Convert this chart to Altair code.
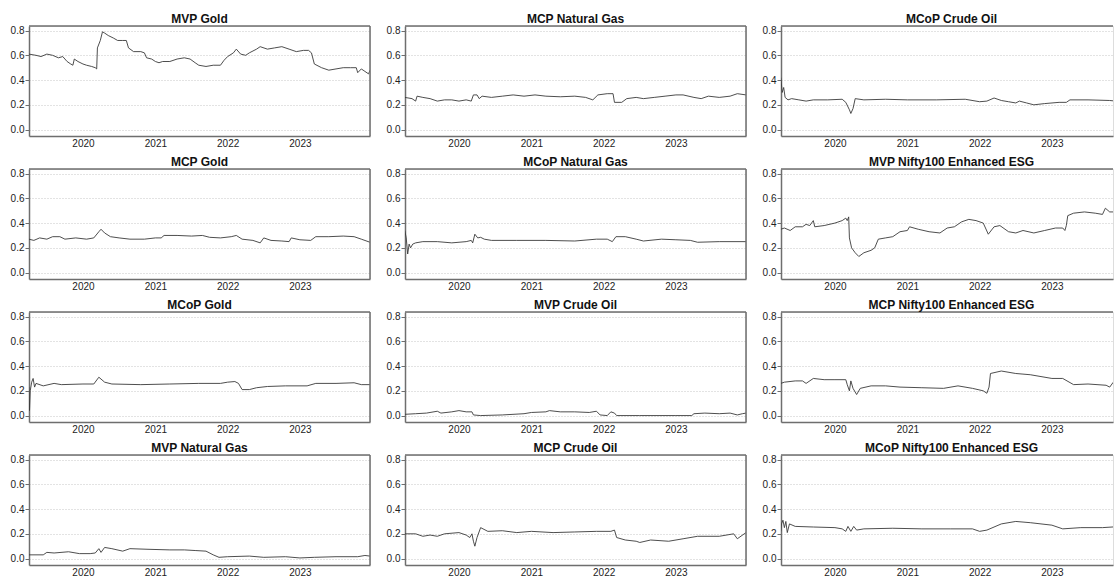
import altair as alt
import pandas as pd

# ---- values: decimal-year positions (T) and weights (V) ----
MVP_GOLD_T = [2019.25, 2019.35, 2019.42, 2019.50, 2019.58, 2019.66, 2019.72, 2019.78, 2019.83, 2019.86,
              2019.88, 2019.93, 2020.00, 2020.05, 2020.12, 2020.17, 2020.19, 2020.20, 2020.24, 2020.27,
              2020.30, 2020.35, 2020.42, 2020.48, 2020.55, 2020.60, 2020.63, 2020.70, 2020.80, 2020.85,
              2020.88, 2020.95, 2021.00, 2021.05, 2021.10, 2021.20, 2021.30, 2021.40, 2021.48, 2021.55,
              2021.60, 2021.70, 2021.80, 2021.90, 2021.95, 2022.00, 2022.08, 2022.12, 2022.18, 2022.25,
              2022.30, 2022.40, 2022.45, 2022.55, 2022.65, 2022.75, 2022.85, 2022.95, 2023.05, 2023.12,
              2023.16, 2023.20, 2023.30, 2023.40, 2023.50, 2023.60, 2023.70, 2023.78, 2023.80, 2023.85,
              2023.90, 2023.95, 2023.97]
MVP_GOLD_V = [0.61, 0.60, 0.59, 0.61, 0.60, 0.58, 0.59, 0.55, 0.53, 0.52,
              0.57, 0.55, 0.53, 0.52, 0.51, 0.50, 0.49, 0.66, 0.72, 0.79,
              0.78, 0.76, 0.74, 0.72, 0.72, 0.72, 0.66, 0.63, 0.63, 0.62,
              0.58, 0.57, 0.55, 0.54, 0.55, 0.55, 0.57, 0.58, 0.57, 0.54,
              0.52, 0.51, 0.52, 0.52, 0.56, 0.59, 0.62, 0.65, 0.61, 0.60,
              0.62, 0.65, 0.67, 0.65, 0.66, 0.67, 0.65, 0.63, 0.64, 0.64,
              0.62, 0.53, 0.50, 0.48, 0.49, 0.50, 0.50, 0.50, 0.46, 0.49,
              0.47, 0.45, 0.48]

MCP_NGAS_T = [2019.25, 2019.35, 2019.40, 2019.42, 2019.50, 2019.60, 2019.70, 2019.80, 2019.90, 2020.00,
              2020.10, 2020.17, 2020.20, 2020.25, 2020.28, 2020.32, 2020.45, 2020.60, 2020.75, 2020.90,
              2021.05, 2021.20, 2021.40, 2021.60, 2021.75, 2021.85, 2021.92, 2022.05, 2022.13, 2022.15,
              2022.25, 2022.32, 2022.45, 2022.55, 2022.70, 2022.85, 2023.00, 2023.10, 2023.25, 2023.35,
              2023.45, 2023.60, 2023.75, 2023.85, 2023.97]
MCP_NGAS_V = [0.26, 0.25, 0.23, 0.27, 0.26, 0.25, 0.23, 0.24, 0.24, 0.23,
              0.24, 0.23, 0.28, 0.28, 0.25, 0.27, 0.26, 0.27, 0.28, 0.27,
              0.28, 0.27, 0.265, 0.27, 0.26, 0.24, 0.28, 0.29, 0.29, 0.22,
              0.22, 0.25, 0.26, 0.25, 0.26, 0.27, 0.28, 0.28, 0.26, 0.25,
              0.27, 0.26, 0.27, 0.29, 0.28]

MCOP_OIL_T = [2019.25, 2019.27, 2019.29, 2019.31, 2019.35, 2019.40, 2019.50, 2019.60, 2019.70, 2019.90,
              2020.10, 2020.15, 2020.20, 2020.22, 2020.25, 2020.28, 2020.40, 2020.70, 2021.00, 2021.40,
              2021.80, 2022.00, 2022.10, 2022.20, 2022.30, 2022.40, 2022.50, 2022.55, 2022.65, 2022.75,
              2022.90, 2023.10, 2023.20, 2023.25, 2023.50, 2023.80, 2023.97]
MCOP_OIL_V = [0.42, 0.30, 0.34, 0.26, 0.24, 0.25, 0.24, 0.23, 0.24, 0.24,
              0.245, 0.22, 0.16, 0.13, 0.17, 0.25, 0.24, 0.245, 0.24, 0.24,
              0.245, 0.225, 0.23, 0.255, 0.235, 0.225, 0.215, 0.23, 0.215, 0.20,
              0.21, 0.22, 0.22, 0.24, 0.24, 0.235, 0.225]

MCP_GOLD_T = [2019.25, 2019.32, 2019.40, 2019.50, 2019.58, 2019.68, 2019.75, 2019.90, 2020.05, 2020.15,
              2020.22, 2020.25, 2020.30, 2020.38, 2020.50, 2020.65, 2020.85, 2021.00, 2021.08, 2021.12,
              2021.30, 2021.50, 2021.65, 2021.75, 2021.90, 2022.05, 2022.12, 2022.20, 2022.35, 2022.45,
              2022.50, 2022.60, 2022.75, 2022.85, 2022.88, 2023.00, 2023.15, 2023.22, 2023.40, 2023.60,
              2023.75, 2023.85, 2023.97]
MCP_GOLD_V = [0.27, 0.26, 0.28, 0.27, 0.29, 0.29, 0.27, 0.28, 0.27, 0.28,
              0.33, 0.35, 0.32, 0.29, 0.28, 0.27, 0.27, 0.28, 0.28, 0.30,
              0.30, 0.295, 0.30, 0.285, 0.28, 0.29, 0.30, 0.27, 0.26, 0.24,
              0.28, 0.26, 0.255, 0.25, 0.28, 0.265, 0.26, 0.29, 0.29, 0.295,
              0.29, 0.27, 0.245]

MCOP_NGAS_T = [2019.25, 2019.27, 2019.29, 2019.31, 2019.33, 2019.36, 2019.40, 2019.50, 2019.70, 2019.90,
               2020.10, 2020.17, 2020.19, 2020.22, 2020.26, 2020.30, 2020.35, 2020.45, 2020.80, 2021.20,
               2021.60, 2021.90, 2022.05, 2022.12, 2022.17, 2022.30, 2022.45, 2022.55, 2022.80, 2023.00,
               2023.20, 2023.30, 2023.60, 2023.97]
MCOP_NGAS_V = [0.34, 0.28, 0.15, 0.23, 0.20, 0.23, 0.24, 0.25, 0.25, 0.24,
               0.25, 0.26, 0.24, 0.31, 0.28, 0.285, 0.27, 0.26, 0.26, 0.26,
               0.255, 0.27, 0.27, 0.25, 0.29, 0.29, 0.27, 0.255, 0.27, 0.265,
               0.26, 0.245, 0.25, 0.25]

MVP_ESG_T = [2019.25, 2019.30, 2019.38, 2019.45, 2019.55, 2019.60, 2019.65, 2019.70, 2019.72, 2019.85,
             2020.00, 2020.10, 2020.15, 2020.17, 2020.19, 2020.20, 2020.23, 2020.28, 2020.33, 2020.40,
             2020.50, 2020.55, 2020.60, 2020.70, 2020.80, 2020.90, 2021.00, 2021.03, 2021.15, 2021.30,
             2021.45, 2021.55, 2021.65, 2021.75, 2021.85, 2021.95, 2022.05, 2022.12, 2022.20, 2022.28,
             2022.40, 2022.50, 2022.60, 2022.75, 2022.90, 2023.05, 2023.15, 2023.18, 2023.20, 2023.22,
             2023.30, 2023.45, 2023.60, 2023.70, 2023.74, 2023.80, 2023.97]
MVP_ESG_V = [0.35, 0.36, 0.34, 0.37, 0.37, 0.39, 0.38, 0.42, 0.37, 0.38,
             0.40, 0.42, 0.44, 0.42, 0.45, 0.28, 0.20, 0.16, 0.13, 0.16,
             0.18, 0.20, 0.27, 0.28, 0.29, 0.33, 0.34, 0.37, 0.35, 0.33,
             0.32, 0.36, 0.37, 0.41, 0.43, 0.42, 0.40, 0.31, 0.37, 0.38,
             0.33, 0.32, 0.34, 0.32, 0.34, 0.36, 0.36, 0.34, 0.38, 0.46,
             0.48, 0.49, 0.48, 0.47, 0.52, 0.49, 0.49]

MCOP_GOLD_T = [2019.25, 2019.26, 2019.27, 2019.29, 2019.31, 2019.33, 2019.35, 2019.45, 2019.60, 2019.70,
               2020.00, 2020.15, 2020.22, 2020.30, 2020.40, 2020.80, 2021.20, 2021.60, 2021.90, 2022.00,
               2022.10, 2022.15, 2022.20, 2022.30, 2022.40, 2022.55, 2022.80, 2023.10, 2023.22, 2023.50,
               2023.75, 2023.85, 2023.97]
MCOP_GOLD_V = [0.23, 0.04, 0.20, 0.27, 0.30, 0.23, 0.26, 0.24, 0.26, 0.25,
               0.255, 0.255, 0.31, 0.27, 0.255, 0.25, 0.255, 0.26, 0.26, 0.27,
               0.275, 0.26, 0.21, 0.21, 0.225, 0.235, 0.24, 0.24, 0.26, 0.26,
               0.265, 0.25, 0.25]

MVP_OIL_T = [2019.25, 2019.40, 2019.55, 2019.70, 2019.75, 2019.90, 2020.00, 2020.10, 2020.18, 2020.20,
             2020.30, 2020.60, 2020.90, 2021.00, 2021.20, 2021.25, 2021.40, 2021.60, 2021.80, 2021.90,
             2021.95, 2022.05, 2022.10, 2022.15, 2022.18, 2022.50, 2023.00, 2023.22, 2023.25, 2023.40,
             2023.60, 2023.75, 2023.85, 2023.92, 2023.97]
MVP_OIL_V = [0.01, 0.015, 0.02, 0.035, 0.02, 0.03, 0.04, 0.03, 0.03, 0.005,
             0.0, 0.005, 0.015, 0.025, 0.03, 0.04, 0.03, 0.03, 0.025, 0.035,
             0.005, 0.0, 0.03, 0.02, 0.0, 0.0, 0.0, 0.0, 0.015, 0.02,
             0.015, 0.02, 0.005, 0.015, 0.02]

MCP_ESG_T = [2019.25, 2019.30, 2019.45, 2019.55, 2019.60, 2019.70, 2019.85, 2020.00, 2020.15, 2020.17,
             2020.20, 2020.22, 2020.25, 2020.30, 2020.35, 2020.50, 2020.70, 2020.90, 2021.20, 2021.50,
             2021.70, 2021.90, 2022.05, 2022.10, 2022.13, 2022.15, 2022.30, 2022.50, 2022.70, 2023.00,
             2023.15, 2023.30, 2023.50, 2023.75, 2023.80, 2023.85, 2023.97]
MCP_ESG_V = [0.26, 0.27, 0.28, 0.28, 0.26, 0.30, 0.29, 0.29, 0.29, 0.25,
             0.20, 0.28, 0.22, 0.17, 0.22, 0.24, 0.24, 0.23, 0.225, 0.22,
             0.24, 0.22, 0.20, 0.18, 0.23, 0.34, 0.36, 0.34, 0.33, 0.30,
             0.30, 0.25, 0.255, 0.245, 0.23, 0.27, 0.28]

MVP_NGAS_T = [2019.25, 2019.45, 2019.50, 2019.60, 2019.80, 2019.95, 2020.10, 2020.17, 2020.22, 2020.25,
              2020.30, 2020.40, 2020.55, 2020.65, 2020.90, 2021.20, 2021.40, 2021.55, 2021.70, 2021.80,
              2021.88, 2022.00, 2022.30, 2022.50, 2022.80, 2023.00, 2023.20, 2023.50, 2023.80, 2023.90,
              2023.97]
MVP_NGAS_V = [0.03, 0.03, 0.05, 0.045, 0.055, 0.04, 0.04, 0.045, 0.08, 0.05,
              0.09, 0.08, 0.06, 0.08, 0.075, 0.07, 0.07, 0.065, 0.06, 0.03,
              0.01, 0.015, 0.02, 0.01, 0.015, 0.005, 0.01, 0.015, 0.015, 0.025,
              0.02]

MCP_OIL_T = [2019.25, 2019.40, 2019.50, 2019.60, 2019.70, 2019.80, 2020.00, 2020.10, 2020.15, 2020.18,
             2020.20, 2020.22, 2020.25, 2020.30, 2020.40, 2020.60, 2020.80, 2021.00, 2021.30, 2021.60,
             2021.90, 2022.10, 2022.15, 2022.18, 2022.30, 2022.45, 2022.50, 2022.65, 2022.90, 2023.10,
             2023.30, 2023.60, 2023.80, 2023.85, 2023.97]
MCP_OIL_V = [0.20, 0.20, 0.18, 0.19, 0.18, 0.20, 0.21, 0.19, 0.17, 0.20,
             0.14, 0.10, 0.17, 0.25, 0.22, 0.225, 0.21, 0.22, 0.21, 0.215,
             0.22, 0.22, 0.23, 0.17, 0.15, 0.14, 0.13, 0.15, 0.14, 0.16,
             0.18, 0.18, 0.20, 0.16, 0.21]

MCOP_ESG_T = [2019.25, 2019.26, 2019.28, 2019.30, 2019.32, 2019.34, 2019.37, 2019.45, 2019.70, 2020.00,
              2020.10, 2020.15, 2020.18, 2020.22, 2020.26, 2020.30, 2020.40, 2020.80, 2021.20, 2021.60,
              2021.90, 2022.00, 2022.10, 2022.30, 2022.50, 2022.70, 2023.00, 2023.15, 2023.40, 2023.70,
              2023.97]
MCOP_ESG_V = [0.22, 0.28, 0.31, 0.25, 0.30, 0.21, 0.28, 0.26, 0.255, 0.25,
              0.24, 0.22, 0.26, 0.22, 0.26, 0.23, 0.24, 0.245, 0.24, 0.24,
              0.24, 0.22, 0.23, 0.28, 0.30, 0.29, 0.27, 0.24, 0.25, 0.25,
              0.26]

TITLES = ["MVP Gold", "MCP Natural Gas", "MCoP Crude Oil",
          "MCP Gold", "MCoP Natural Gas", "MVP Nifty100 Enhanced ESG",
          "MCoP Gold", "MVP Crude Oil", "MCP Nifty100 Enhanced ESG",
          "MVP Natural Gas", "MCP Crude Oil", "MCoP Nifty100 Enhanced ESG"]
SERIES_T = [MVP_GOLD_T, MCP_NGAS_T, MCOP_OIL_T, MCP_GOLD_T, MCOP_NGAS_T, MVP_ESG_T,
            MCOP_GOLD_T, MVP_OIL_T, MCP_ESG_T, MVP_NGAS_T, MCP_OIL_T, MCOP_ESG_T]
SERIES_V = [MVP_GOLD_V, MCP_NGAS_V, MCOP_OIL_V, MCP_GOLD_V, MCOP_NGAS_V, MVP_ESG_V,
            MCOP_GOLD_V, MVP_OIL_V, MCP_ESG_V, MVP_NGAS_V, MCP_OIL_V, MCOP_ESG_V]
Y_TICKS = [0.0, 0.2, 0.4, 0.6, 0.8]
X_YEARS = [2020, 2021, 2022, 2023]


def to_iso(t):
    year = int(t)
    ts = pd.Timestamp(year, 1, 1) + pd.Timedelta(days=(t - year) * 365.25)
    return ts.strftime("%Y-%m-%dT%H:%M:%S")


FONT = "Liberation Sans"
FRAME = "#6e6e6e"
W, H = 341, 110
W_LAST = 332
X_START = to_iso(2019.253)
X_END = to_iso(2023.97)
X_END_LAST = to_iso(2019.253 + (2023.97 - 2019.253) * W_LAST / W)


def panel(i):
    col = i % 3
    last = col == 2
    width = W_LAST if last else W
    df = pd.DataFrame({"date": [to_iso(t) for t in SERIES_T[i]], "value": SERIES_V[i]})
    one = pd.DataFrame({"k": [0]})
    xaxis = alt.Axis(values=[alt.DateTime(year=y, month=1, date=1) for y in X_YEARS],
                     format="%Y", ticks=False, grid=False, labelPadding=2, labelFontSize=10,
                     labelFont=FONT, labelColor="#222", domainColor=FRAME, domainWidth=1.5,
                     title=None)
    yaxis = alt.Axis(values=Y_TICKS, format=".1f", tickSize=4, tickColor=FRAME, tickWidth=1,
                     labelPadding=1, labelFontSize=10, labelFont=FONT, labelColor="#222",
                     domainColor=FRAME, domainWidth=1.5, grid=True, gridDash=[1, 2],
                     gridColor="#b8b8b8", gridWidth=0.8, title=None)
    line = alt.Chart(df).mark_line(color="#3a3a3a", strokeWidth=0.9, clip=True).encode(
        x=alt.X("date:T", scale=alt.Scale(domain=[X_START, X_END_LAST if last else X_END]), axis=xaxis),
        y=alt.Y("value:Q", scale=alt.Scale(domain=[-0.052, 0.837], nice=False, zero=False), axis=yaxis),
    )
    top = alt.Chart(one).mark_rule(color=FRAME, strokeWidth=1.5).encode(
        x=alt.value(0), x2=alt.value(width), y=alt.value(0))
    layers = [line, top]
    if not last:
        right = alt.Chart(one).mark_rule(color=FRAME, strokeWidth=1.5).encode(
            x=alt.value(width), y=alt.value(0), y2=alt.value(H))
        layers.append(right)
    return alt.layer(*layers).properties(
        width=width, height=H,
        title=alt.TitleParams(TITLES[i], font=FONT, fontSize=12, fontWeight="bold", color="#111",
                              anchor="middle", frame="group", offset=-1, dx=4.5 if last else 0),
    )


chart = alt.concat(*[panel(i) for i in range(12)], columns=3).properties(
    spacing={"row": 33, "column": 35}, bounds="flush",
    padding={"left": 9, "top": 12, "right": 0, "bottom": 0},
).configure_view(stroke=None).configure(background="white")

chart.save("out.html", embed_options={"renderer": "svg", "actions": False})
